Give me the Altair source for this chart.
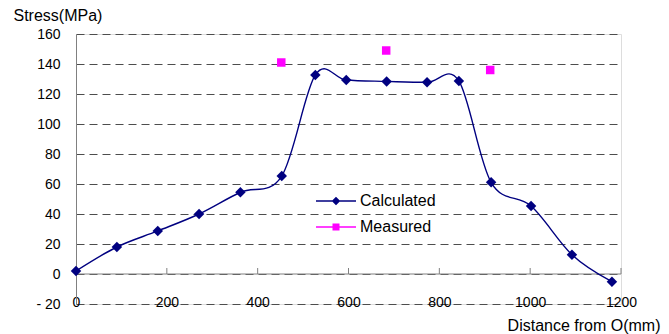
import altair as alt
import pandas as pd

# ---- data ----
calc_x = [0, 90, 180, 271, 362, 453, 527, 595, 684, 773, 843, 914, 1002, 1092, 1180]
calc_y = [2, 18, 28.7, 40, 54.5, 65.3, 132.7, 129.3, 128.4, 127.8, 128.7, 61.1, 45.3, 12.9, -5.1]
meas_x = [452, 683, 912]
meas_y = [141, 149, 136]
series = ["Calculated", "Measured"]
x_ticks = [0, 200, 400, 600, 800, 1000, 1200]
y_ticks = [-20, 0, 20, 40, 60, 80, 100, 120, 140, 160]

NAVY = "#000080"
MAGENTA = "#FF00FF"
AXIS_GRAY = "#808080"
FONT = "Liberation Sans"

calc = pd.DataFrame({"x": calc_x, "y": calc_y, "series": series[0]})
meas = pd.DataFrame({"x": meas_x, "y": meas_y, "series": series[1]})
both = pd.concat([calc, meas], ignore_index=True)

xscale = alt.Scale(domain=[0, 1200], nice=False, zero=False)
yscale = alt.Scale(domain=[-20, 160], nice=False, zero=False)

x_axis = alt.Axis(
    values=x_ticks, tickCount=len(x_ticks), format="d", grid=False, domain=False,
    ticks=False, tickSize=0,
    labelFont=FONT, labelFontSize=14, labelColor="black", labelOverlap=False,
    labelBaseline="middle", labelPadding=-2, labelFlush=False,
    title="Distance from O(mm)", titleFont=FONT, titleFontSize=16,
    titleFontWeight="normal", titleColor="black",
    titleX=584, titleY=26, titleAlign="right", titleBaseline="alphabetic",
)
y_axis = alt.Axis(
    values=y_ticks, tickCount=len(y_ticks),
    grid=True, gridColor="#4d4d4d", gridDash=[8, 5], gridWidth=1,
    domain=True, domainColor=AXIS_GRAY, domainWidth=1,
    ticks=False, tickSize=0, labelPadding=16, labelOverlap=False, labelFlush=False,
    labelFont=FONT, labelFontSize=14, labelColor="black",
    labelExpr="datum.value < 0 ? '- ' + abs(datum.value) : datum.label",
    title="Stress(MPa)", titleFont=FONT, titleFontSize=16,
    titleFontWeight="normal", titleColor="black", titleAngle=0,
    titleX=-63, titleY=-14, titleAlign="left", titleBaseline="alphabetic",
)

# axis line at y = 0 with upward tick marks
zero_line = alt.Chart(pd.DataFrame({"x": [x_ticks[0]], "x2": [x_ticks[-1]], "y": [0]})).mark_rule(
    color=AXIS_GRAY, strokeWidth=1
).encode(
    x=alt.X("x:Q", scale=xscale, axis=x_axis),
    x2="x2:Q",
    y=alt.Y("y:Q", scale=yscale, axis=y_axis),
)
tick_df = pd.DataFrame({"x": x_ticks[1:], "y": 0, "y2": 4})
zero_ticks = alt.Chart(tick_df).mark_rule(color=AXIS_GRAY, strokeWidth=1).encode(
    x=alt.X("x:Q", scale=xscale), y=alt.Y("y:Q", scale=yscale), y2="y2:Q"
)

line = alt.Chart(calc).mark_line(interpolate="cardinal", color=NAVY, strokeWidth=1.4).encode(
    x=alt.X("x:Q", scale=xscale), y=alt.Y("y:Q", scale=yscale)
)
calc_pts = alt.Chart(calc).mark_point(shape="diamond", filled=True, color=NAVY, size=110, opacity=1).encode(
    x=alt.X("x:Q", scale=xscale), y=alt.Y("y:Q", scale=yscale)
)
meas_pts = alt.Chart(meas).mark_point(shape="square", filled=True, color=MAGENTA, size=72, opacity=1).encode(
    x=alt.X("x:Q", scale=xscale), y=alt.Y("y:Q", scale=yscale)
)

# legend symbols: line with marker
leg_diamond = "M-4,-0.16L4,-0.16L4,0.16L-4,0.16Z M0,-0.85L0.85,0L0,0.85L-0.85,0Z"
leg_square = "M-4,-0.16L4,-0.16L4,0.16L-4,0.16Z M-0.7,-0.7L0.7,-0.7L0.7,0.7L-0.7,0.7Z"

leg = alt.Legend(title=None, orient="none", legendX=252, legendY=159,
                 padding=0, labelOffset=16, rowPadding=10,
                 symbolOpacity=1, symbolStrokeWidth=0, symbolSize=100,
                 labelFont=FONT, labelFontSize=16, labelColor="black")

legend_layer = alt.Chart(both).mark_point(filled=True, opacity=0, size=100).encode(
    x=alt.X("x:Q", scale=xscale), y=alt.Y("y:Q", scale=yscale),
    color=alt.Color("series:N", scale=alt.Scale(domain=series, range=[NAVY, MAGENTA]), legend=leg),
    shape=alt.Shape("series:N", scale=alt.Scale(domain=series, range=[leg_diamond, leg_square]), legend=leg),
)

chart = alt.layer(zero_line, zero_ticks, line, calc_pts, meas_pts, legend_layer).properties(
    width=545, height=270,
    autosize=alt.AutoSizeParams(type="none"),
    padding={"left": 76, "top": 34, "right": 48, "bottom": 30},
).configure_view(stroke=None).configure(background="white")

chart.save("out.html", embed_options={"renderer": "svg", "actions": False})
